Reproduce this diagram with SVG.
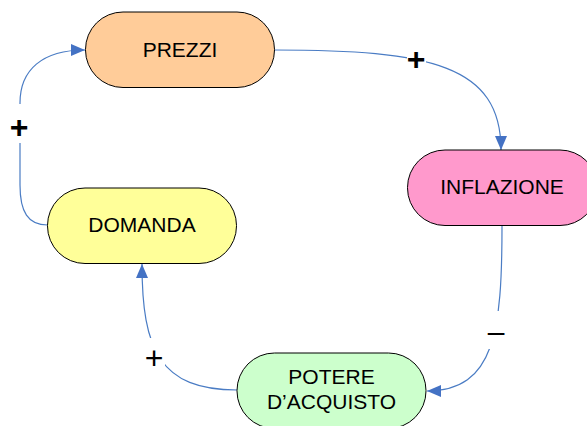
<svg xmlns="http://www.w3.org/2000/svg" width="587" height="426" viewBox="0 0 587 426">
<style>
.node rect{stroke:#000;stroke-width:1}
.node text{font-family:"Liberation Sans",Arial,sans-serif;font-size:21px;fill:#000;text-anchor:middle}
.conn path{fill:none;stroke:#4A7CC4;stroke-width:1.2}
.conn rect{fill:#fff}
.lbl{font-family:"Liberation Sans",Arial,sans-serif;fill:#000;text-anchor:middle}
</style>
<defs>
<marker id="arr" markerUnits="userSpaceOnUse" markerWidth="14" markerHeight="12" refX="14" refY="6" orient="auto">
<path d="M0,0 L14,6 L0,12 z" fill="#4472C4"/>
</marker>
</defs>
<rect width="587" height="426" fill="#fff"/>
<g class="conn">
<path d="M47.5,225 C28,225 20,212 20,185 L20,103 C20,70 42,50 85,50" marker-end="url(#arr)"/>
<path d="M274.5,50 C430,50 501,65 501,150" marker-end="url(#arr)"/>
<path d="M502,226 C502,330 495,391 427,391" marker-end="url(#arr)"/>
<path d="M237,390 C160,390 142,350 142,264" marker-end="url(#arr)"/>
<rect x="8" y="104" width="23" height="39"/>
<rect x="407" y="48" width="19" height="22"/>
<rect x="484" y="311" width="24" height="38"/>
<rect x="143" y="338" width="22" height="31"/>
<text class="lbl" x="19" y="138" font-size="32" font-weight="bold">+</text>
<text class="lbl" x="416" y="70" font-size="32" font-weight="bold">+</text>
<text class="lbl" x="154" y="369" font-size="32">+</text>
<text class="lbl" x="496" y="342" font-size="30">–</text>
</g>
<g id="prezzi" class="node">
<rect x="85.5" y="12" width="189" height="75.5" rx="37.5" fill="#FFCC99"/>
<text x="180" y="57">PREZZI</text>
</g>
<g id="inflazione" class="node">
<rect x="407.5" y="150" width="190" height="75.5" rx="37.5" fill="#FF99CC"/>
<text x="502" y="194">INFLAZIONE</text>
</g>
<g id="domanda" class="node">
<rect x="47.5" y="188" width="189" height="75.5" rx="37.5" fill="#FFFF99"/>
<text x="142" y="232">DOMANDA</text>
</g>
<g id="potere" class="node">
<rect x="237" y="353" width="189" height="75.5" rx="37.5" fill="#CCFFCC"/>
<text x="331.5" y="384">POTERE</text>
<text x="331.5" y="409">D’ACQUISTO</text>
</g>
</svg>
